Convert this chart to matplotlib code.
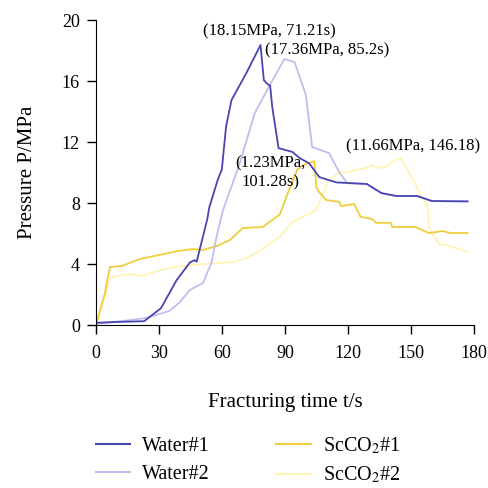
"""Pressure curves for water and ScCO2 fracturing."""

import matplotlib

matplotlib.use("Agg")

import matplotlib.pyplot as plt
from matplotlib.lines import Line2D

plt.rcParams["font.family"] = ["Liberation Serif", "DejaVu Serif"]
plt.rcParams["mathtext.fontset"] = "stix"

water1_t = [1, 10, 23, 31, 38.5, 44.8, 47, 48, 53, 54, 58, 60, 62, 64.6, 71.6, 78.4,
            80, 81.7, 83, 84, 87, 93.6, 97, 101.6, 106.4, 114.6, 129, 136, 143, 153,
            160, 177]
water1_p = [0.15, 0.2, 0.25, 1.1, 2.95, 4.1, 4.25, 4.15, 6.9, 7.7, 9.5, 10.2, 13.0, 14.75,
            16.5, 18.36, 16.06, 15.8, 15.7, 14.3, 11.6, 11.35, 10.95, 10.6, 9.7, 9.35,
            9.25, 8.65, 8.46, 8.46, 8.13, 8.1]

water2_t = [1, 12, 24, 35, 40, 44.8, 51, 55, 57.5, 59.4, 60.5, 68.5, 75.7, 83.5, 89.8,
            94.6, 100, 103, 106.4, 111, 116, 119.7, 129, 136, 143, 153, 160, 177]
water2_p = [0.1, 0.25, 0.46, 0.92, 1.5, 2.3, 2.75, 4.05, 5.8, 6.9, 7.5, 10.6, 13.9, 15.9,
            17.44, 17.25, 15.1, 11.67, 11.5, 11.28, 10.0, 9.3, 9.25, 8.65, 8.46, 8.46,
            8.13, 8.13]

sc1_t = [0.5, 4.3, 6.7, 12.4, 21, 30.5, 39, 46, 51, 57.5, 63.8, 70, 79.5, 87.6, 91, 96,
         99, 104, 105, 106.4, 109.6, 116, 116.7, 123, 126, 131.6, 133.4, 140.6, 141, 152,
         158.6, 165, 169, 177]
sc1_p = [0.2, 2.1, 3.8, 3.87, 4.33, 4.6, 4.85, 4.98, 4.92, 5.18, 5.57, 6.36, 6.43, 7.25,
         8.5, 10.2, 10.5, 10.75, 9.05, 8.7, 8.2, 8.07, 7.8, 7.93, 7.1, 6.95, 6.7, 6.7,
         6.43, 6.43, 6.03, 6.16, 6.03, 6.03]

sc2_t = [0.5, 4.5, 6.7, 12.4, 17, 22, 29, 37.6, 46, 56.5, 65, 71.6, 78, 84, 87.6, 93.7,
         105, 111, 116, 119.7, 124, 128.7, 131.6, 134, 138, 141, 145, 146.7, 152.4, 154,
         158, 158.6, 163.3, 166.7, 177]
sc2_p = [0.2, 2.0, 3.08, 3.28, 3.34, 3.2, 3.54, 3.8, 3.93, 4.05, 4.13, 4.38, 4.85, 5.44,
         5.77, 6.75, 7.54, 9.5, 10.0, 10.03, 10.16, 10.3, 10.5, 10.3, 10.36, 10.7, 10.95,
         10.6, 9.18, 8.72, 7.74, 6.43, 5.3, 5.25, 4.8]

colors = {"Water#1": "#4a45b0", "Water#2": "#c0bdf0",
          "ScCO2#1": "#f0cd3c", "ScCO2#2": "#fff3b5"}

fig = plt.figure(figsize=(4.89, 4.88), dpi=100)
ax = fig.add_axes([0.196, 0.334, 0.773, 0.625])

ax.plot(sc2_t, sc2_p, color=colors["ScCO2#2"], linewidth=1.3)
ax.plot(sc1_t, sc1_p, color=colors["ScCO2#1"], linewidth=1.3)
ax.plot(water2_t, water2_p, color=colors["Water#2"], linewidth=1.3)
ax.plot(water1_t, water1_p, color=colors["Water#1"], linewidth=1.3)

ax.set_xlim(0, 180)
ax.set_ylim(0, 20)
ax.set_xticks([0, 30, 60, 90, 120, 150, 180])
ax.set_yticks([0, 4, 8, 12, 16, 20])
ax.spines["top"].set_visible(False)
ax.spines["right"].set_visible(False)
ax.tick_params(direction="out", length=6.5, width=1, labelsize=13)
ax.tick_params(axis="x", pad=8)
ax.tick_params(axis="y", pad=5)
ax.set_xlabel("Fracturing time t/s", fontsize=15, labelpad=22)
ax.set_ylabel("Pressure P/MPa", fontsize=15, labelpad=18)

ann_size = 12
ax.text(82.6, 18.7, "(18.15MPa, 71.21s)", fontsize=ann_size, ha="center", va="bottom")
ax.text(110, 17.5, "(17.36MPa, 85.2s)", fontsize=ann_size, ha="center", va="bottom")
ax.text(83, 8.85, "(1.23MPa,\n101.28s)", fontsize=ann_size, ha="center", va="bottom",
        linespacing=1.2)
ax.text(151, 11.2, "(11.66MPa, 146.18)", fontsize=ann_size, ha="center", va="bottom")

handles = [Line2D([], [], color=colors[k], linewidth=1.5) for k in
           ["Water#1", "Water#2", "ScCO2#1", "ScCO2#2"]]
labels = ["Water#1", "Water#2", r"ScCO$_2$#1", r"ScCO$_2$#2"]
fig.legend(handles, labels, loc="upper left", bbox_to_anchor=(0.196, 0.108), ncol=2,
           frameon=False, fontsize=14.5, handlelength=1.7, columnspacing=3.3,
           handletextpad=0.6, labelspacing=0.45, borderpad=0, borderaxespad=0)

fig.savefig("out.png", dpi=100)
plt.close(fig)
